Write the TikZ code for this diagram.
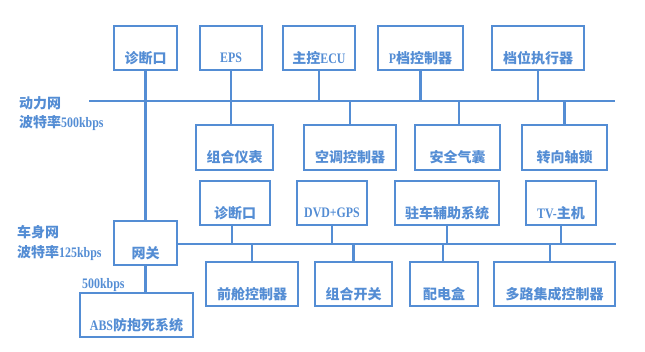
\documentclass[tikz,border=0pt]{standalone}
\usepackage{fontspec}
\setmainfont{Liberation Serif}
\newfontfamily\cjkf{Noto Sans CJK SC}
\newfontfamily\latf[FakeStretch=0.82]{Liberation Serif Bold}
\definecolor{bl}{RGB}{84,141,212}
\newcommand\CJ[1]{{\cjkf\bfseries\fontsize{14}{16}\selectfont #1}}
\newcommand\LT[1]{{\latf\fontsize{14.5}{16}\selectfont #1}}
\tikzset{
  box/.style={draw=bl, line width=2.4pt, inner sep=0pt, rectangle},
  txt/.style={text=bl, inner sep=0pt, anchor=center},
  lbl/.style={text=bl, inner sep=0pt, anchor=west},
  wire/.style={draw=bl, line width=2.4pt},
}
% name, x1, y1, x2, y2, text
\newcommand\bx[6]{%
  \node[box, minimum width={#4-#2-2.4}, minimum height={#5-#3-2.4}] (#1) at ({(#2+#4)/2},{(#3+#5)/2}) {};
  \node[txt] (#1-t) at ({(#2+#4)/2},{#3+33}) {#6};}
\begin{document}
\begin{tikzpicture}[x=1pt,y=-1pt]
\useasboundingbox (0,0) rectangle (645,352);
% power net top row
\bx{zd1}{113}{25}{178}{71}{\CJ{诊断口}}
\bx{eps}{199}{25}{263}{71}{\LT{EPS}}
\bx{ecu}{282}{25}{356}{71}{\CJ{主控}\LT{ECU}}
\bx{pdk}{377}{25}{464}{71}{\LT{P}\CJ{档控制器}}
\bx{dwz}{491}{25}{585}{71}{\CJ{档位执行器}}
% power net bottom row
\bx{zhyb}{195}{124}{274}{171}{\CJ{组合仪表}}
\bx{kt}{303}{124}{397}{171}{\CJ{空调控制器}}
\bx{aq}{414}{124}{501}{171}{\CJ{安全气囊}}
\bx{zx}{521}{124}{608}{171}{\CJ{转向轴锁}}
% body net top row
\bx{zd2}{199}{180}{271}{226}{\CJ{诊断口}}
\bx{dvd}{296}{180}{368}{226}{\LT{DVD+GPS}}
\bx{zc}{394}{180}{500}{226}{\CJ{驻车辅助系统}}
\bx{tv}{525}{180}{597}{226}{\LT{TV-}\CJ{主机}}
% body net bottom row
\bx{qc}{205}{261}{299}{307}{\CJ{前舱控制器}}
\bx{zhkg}{314}{261}{393}{307}{\CJ{组合开关}}
\bx{pd}{409}{261}{479}{307}{\CJ{配电盒}}
\bx{dl}{493}{261}{616}{307}{\CJ{多路集成控制器}}
% gateway and ABS
\bx{gw}{113}{220}{178}{266}{\CJ{网关}}
\bx{abs}{79}{292}{194}{338}{\LT{ABS}\CJ{防抱死系统}}
% buses
\coordinate (pbw) at (89,101);
\coordinate (pbe) at (615,101);
\coordinate (bbe) at (616,244);
\draw[wire] (pbw) -- (pbe);
\draw[wire] (gw.east |- bbe) -- (bbe);
% power connections
\draw[wire] (zd1.south) -- (gw.north);
\draw[wire] (eps.south) -- (eps.south |- zhyb.north);
\draw[wire] (ecu.south) -- (ecu.south |- pbe);
\draw[wire] (pdk.south) -- (pdk.south |- pbe);
\draw[wire] (dwz.south) -- (dwz.south |- pbe);
\draw[wire] (kt.north) -- (kt.north |- pbe);
\draw[wire] ([xshift=1.5pt]aq.north) -- ([xshift=1.5pt]aq.north |- pbe);
\draw[wire] (zx.north) -- (zx.north |- pbe);
% body connections
\draw[wire] ([xshift=-3pt]zd2.south) -- ([xshift=-3pt]zd2.south |- bbe);
\draw[wire] (dvd.south) -- (dvd.south |- bbe);
\draw[wire] (zc.south) -- (zc.south |- bbe);
\draw[wire] (tv.south) -- (tv.south |- bbe);
\draw[wire] (qc.north) -- (qc.north |- bbe);
\draw[wire] (zhkg.north) -- (zhkg.north |- bbe);
\draw[wire] ([xshift=-1pt]pd.north) -- ([xshift=-1pt]pd.north |- bbe);
\draw[wire] ([xshift=-4.5pt]dl.north) -- ([xshift=-4.5pt]dl.north |- bbe);
\draw[wire] (gw.south) -- (gw.south |- abs.north);
% labels
\node[lbl] (l1) at (19,103) {\CJ{动力网}};
\node[lbl] (l2) at (19,123) {\CJ{波特率}\LT{500kbps}};
\node[lbl] (l3) at (17,232) {\CJ{车身网}};
\node[lbl] (l4) at (17,253) {\CJ{波特率}\LT{125kbps}};
\node[lbl] (l5) at (82,285) {\LT{500kbps}};
\end{tikzpicture}
\end{document}
